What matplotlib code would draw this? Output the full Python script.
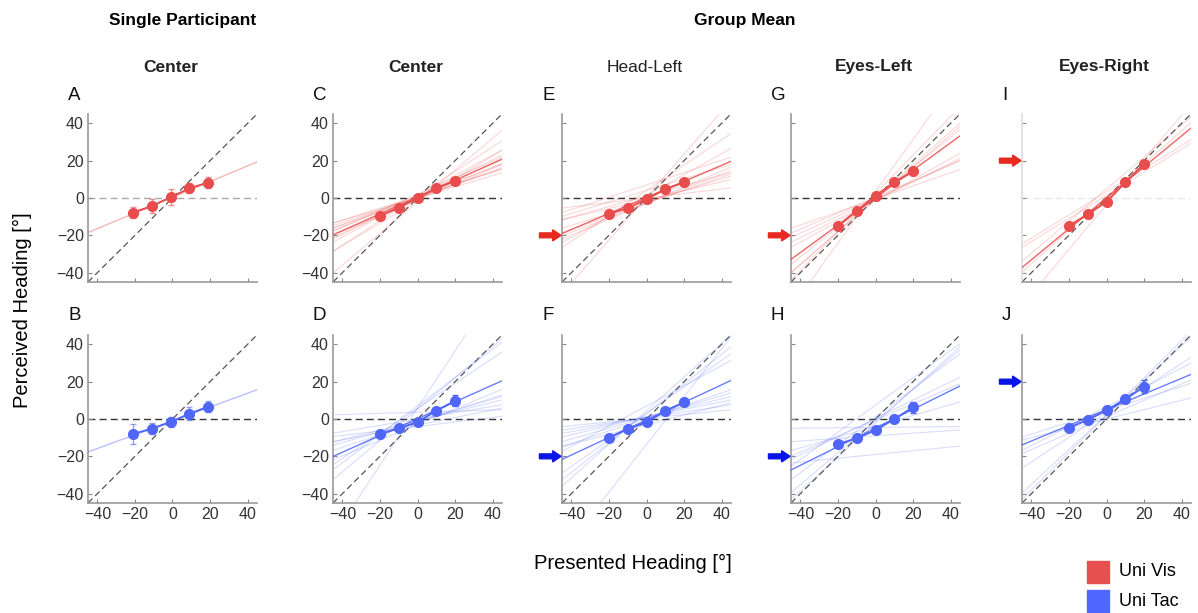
import numpy as np
import matplotlib.pyplot as plt

plt.rcParams['font.family'] = ['Liberation Sans', 'DejaVu Sans']

RED = '#E84C4C'
BLUE = '#4F66F8'
ARROW_RED = '#E62A1F'
ARROW_BLUE = '#0A14E6'

headings = [-20, -10, 0, 10, 20]
ticks = [-40, -20, 0, 20, 40]

# single participant (A, B) - slightly offset presented headings
single_x = [-21, -11, -1, 9, 19]
a_mean = [-7.8, -4.3, 0.4, 5.2, 8.3]
a_err = [2.9, 3.6, 4.3, 2.7, 3.2]
a_fit = (0.42, 0.4)
b_mean = [-8.0, -5.2, -1.6, 2.8, 6.6]
b_err = [5.3, 3.0, 2.7, 3.6, 3.0]
b_fit = (0.37, -1.0)

# group mean, Center (C, D)
c_mean = [-9.6, -5.3, 0.0, 5.3, 9.2]
c_err = [1.0, 1.0, 0.6, 1.0, 1.0]
c_fit = (0.45, 0.5)
c_slopes = [0.85, 0.66, 0.55, 0.50, 0.47, 0.42, 0.40, 0.38, 0.36, 0.34, 0.32, 0.30, 0.44, 0.60]
c_icepts = [-2.0, 1.0, 1.0, 0.5, 0.0, -1.0, 0.5, 1.0, 0.0, 0.5, 1.0, 0.0, 2.0, -1.5]
d_mean = [-8.0, -5.0, -1.6, 4.4, 9.8]
d_err = [1.0, 1.0, 1.2, 1.5, 3.0]
d_fit = (0.45, 0.2)
d_slopes = [1.53, 0.03, 0.17, 0.20, 0.29, 0.33, 0.42, 0.67, 0.76, 0.84, 0.25, 0.12]
d_icepts = [5.9, 3.6, 0.0, -3.2, -1.0, -1.9, -3.0, 5.7, 7.0, 5.3, -1.0, -4.0]

# Head-Left (E, F)
e_mean = [-8.4, -5.5, -0.5, 4.6, 8.5]
e_err = [1.0, 1.0, 0.8, 1.0, 1.0]
e_fit = (0.43, 0.3)
e_slopes = [1.15, 0.68, 0.56, 0.43, 0.39, 0.35, 0.31, 0.24, 0.12, 0.31, 0.33, 0.28]
e_icepts = [0.5, 4.0, 1.3, -2.8, -2.8, -2.8, -2.2, -0.9, 0.0, 4.1, 7.0, 1.0]
f_mean = [-10.1, -5.3, -1.8, 4.4, 8.9]
f_err = [1.0, 1.0, 1.0, 1.0, 1.2]
f_fit = (0.47, -0.5)
f_slopes = [0.10, 0.15, 0.20, 0.24, 0.29, 0.34, 0.54, 0.71, 0.79, 0.90, 1.28, 0.26]
f_icepts = [0.4, 0.8, 1.2, 1.2, 0.9, 0.4, 7.0, 3.0, 3.0, 4.5, -13.6, -3.0]

# Eyes-Left (G, H)
g_mean = [-15.1, -6.8, 1.2, 8.4, 14.2]
g_err = [1.0, 1.0, 1.0, 1.2, 1.8]
g_fit = (0.735, 0.2)
g_slopes = [1.39, 1.03, 0.89, 0.87, 0.80, 0.56, 0.50, 0.43, 0.35, 0.46]
g_icepts = [3.6, 2.4, 0.0, -0.9, 0.5, -1.3, -1.3, 0.5, -0.5, -0.4]
h_mean = [-13.5, -10.3, -6.0, 0.0, 6.2]
h_err = [1.0, 1.0, 1.2, 1.5, 3.0]
h_fit = (0.50, -4.8)
h_slopes = [0.01, 0.07, 0.10, 0.29, 0.43, 0.49, 0.75, 0.85, 0.91, 0.73]
h_icepts = [-4.5, -9.0, -19.0, -3.9, -0.5, 0.35, 1.2, -1.2, -2.2, 7.5]

# Eyes-Right (I, J)
i_mean = [-14.9, -8.7, -2.0, 8.4, 18.3]
i_err = [1.0, 1.0, 1.0, 1.5, 1.5]
i_fit = (0.83, 0.1)
i_slopes = [0.62, 0.62, 0.86, 0.89, 1.20]
i_icepts = [3.3, 1.4, 4.8, 0.4, -3.5]
j_mean = [-4.6, -0.5, 4.6, 10.7, 17.4]
j_err = [1.0, 1.0, 1.5, 2.0, 3.4]
j_fit = (0.42, 5.0)
j_slopes = [0.32, 0.25, 0.52, 0.44, 0.66, 0.93, 1.00]
j_icepts = [4.7, 0.0, 6.5, 1.2, 3.4, 2.2, 2.0]

letters = ['A', 'C', 'E', 'G', 'I', 'B', 'D', 'F', 'H', 'J']
col_titles = ['Center', 'Center', 'Head-Left', 'Eyes-Left', 'Eyes-Right']
target_headings = [None, None, -20, -20, 20]

W, H = 1198, 613
fig = plt.figure(figsize=(W / 100, H / 100), dpi=100)

col_left = [88, 333, 562, 791, 1022]
row_top = [114, 335]
size_w, size_h = 169, 168

top_data = [
    (single_x, a_mean, a_err, a_fit, [], []),
    (headings, c_mean, c_err, c_fit, c_slopes, c_icepts),
    (headings, e_mean, e_err, e_fit, e_slopes, e_icepts),
    (headings, g_mean, g_err, g_fit, g_slopes, g_icepts),
    (headings, i_mean, i_err, i_fit, i_slopes, i_icepts),
]
bottom_data = [
    (single_x, b_mean, b_err, b_fit, [], []),
    (headings, d_mean, d_err, d_fit, d_slopes, d_icepts),
    (headings, f_mean, f_err, f_fit, f_slopes, f_icepts),
    (headings, h_mean, h_err, h_fit, h_slopes, h_icepts),
    (headings, j_mean, j_err, j_fit, j_slopes, j_icepts),
]

line_x = np.array([-45, 45])

for r, (rows, color, arrow_color) in enumerate([(top_data, RED, ARROW_RED),
                                                (bottom_data, BLUE, ARROW_BLUE)]):
    for c, (xs, mean, err, fit, slopes, icepts) in enumerate(rows):
        left = col_left[c] / W
        bottom = (H - row_top[r] - size_h) / H
        ax = fig.add_axes([left, bottom, size_w / W, size_h / H])
        ax.set_xlim(-45, 45)
        ax.set_ylim(-45, 45)

        # reference lines
        if c == 0 and r == 0:
            hcol = '#aaaaaa'
        elif c == 4 and r == 0:
            hcol = '#e6e6e6'
        else:
            hcol = '#333333'
        ax.plot(line_x, [0, 0], ls=(0, (5, 3)), color=hcol, lw=1.0, zorder=1)
        ax.plot(line_x, line_x, ls=(0, (5, 3)), color='#555555', lw=0.9, zorder=1)

        # individual participant fits
        for s, b in zip(slopes, icepts):
            ax.plot(line_x, s * line_x + b, color=color, alpha=0.22, lw=0.8, zorder=2)

        # mean / single fit
        fit_alpha = 0.4 if c == 0 else 0.85
        ax.plot(line_x, fit[0] * line_x + fit[1], color=color, alpha=fit_alpha,
                lw=1.0, zorder=3)

        err_alpha = 0.6 if c == 0 else 1.0
        ax.errorbar(xs, mean, yerr=err, fmt='none', ecolor=color, alpha=err_alpha,
                    elinewidth=1.0, capsize=2.5, zorder=4)
        ax.plot(xs, mean, 'o-', color=color, ms=7, lw=1.4, zorder=5)

        ax.set_xticks(ticks)
        ax.set_yticks(ticks)
        ax.tick_params(direction='in', length=3, width=0.8, color='#888888',
                       labelsize=11.5, labelcolor='#333333', pad=3)
        if c > 1:
            ax.set_yticklabels([])
        if r == 0:
            ax.set_xticklabels([])
        for side in ['top', 'right']:
            ax.spines[side].set_visible(False)
        spine_col = '#dddddd' if (c == 4 and r == 0) else '#999999'
        ax.spines['left'].set_color(spine_col)
        ax.spines['bottom'].set_color('#999999')
        ax.spines['left'].set_linewidth(1.2)
        ax.spines['bottom'].set_linewidth(1.2)

        # target heading arrow
        if target_headings[c] is not None:
            ax.arrow(-57, target_headings[c], 11.5, 0, width=2.6, head_width=6.0,
                     head_length=4.5, length_includes_head=True, clip_on=False,
                     color=arrow_color, zorder=6)

        # panel letter
        fig.text((col_left[c] - 20) / W, 1 - (row_top[r] - 19) / H,
                 letters[r * 5 + c], fontsize=13.5, ha='left', va='center',
                 color='#111111')

# column titles
for c, t in enumerate(col_titles):
    weight = 'normal' if t == 'Head-Left' else 'bold'
    fig.text((col_left[c] + size_w / 2 - 2) / W, 1 - 67 / H, t, fontsize=12.5,
             fontweight=weight, ha='center', va='center', color='#222222')

fig.text(183 / W, 1 - 20 / H, 'Single Participant', fontsize=12.5, fontweight='bold',
         ha='center', va='center')
fig.text(745 / W, 1 - 20 / H, 'Group Mean', fontsize=12.5, fontweight='bold',
         ha='center', va='center')

fig.text(22 / W, 1 - 310 / H, 'Perceived Heading [°]', fontsize=14.5, rotation=90,
         ha='center', va='center')
fig.text(633 / W, 1 - 563 / H, 'Presented Heading [°]', fontsize=14.5,
         ha='center', va='center')

# legend
leg_labels = ['Uni Vis', 'Uni Tac']
leg_colors = ['#E85050', '#5068FF']
for k, (lab, col) in enumerate(zip(leg_labels, leg_colors)):
    yc = 572 + k * 29
    fig.patches.append(plt.Rectangle((1087 / W, 1 - (yc + 11) / H), 22 / W, 22 / H,
                                     transform=fig.transFigure, color=col))
    fig.text(1119 / W, 1 - yc / H, lab, fontsize=13, ha='left', va='center')

fig.savefig('out.png', dpi=100, facecolor='white')
